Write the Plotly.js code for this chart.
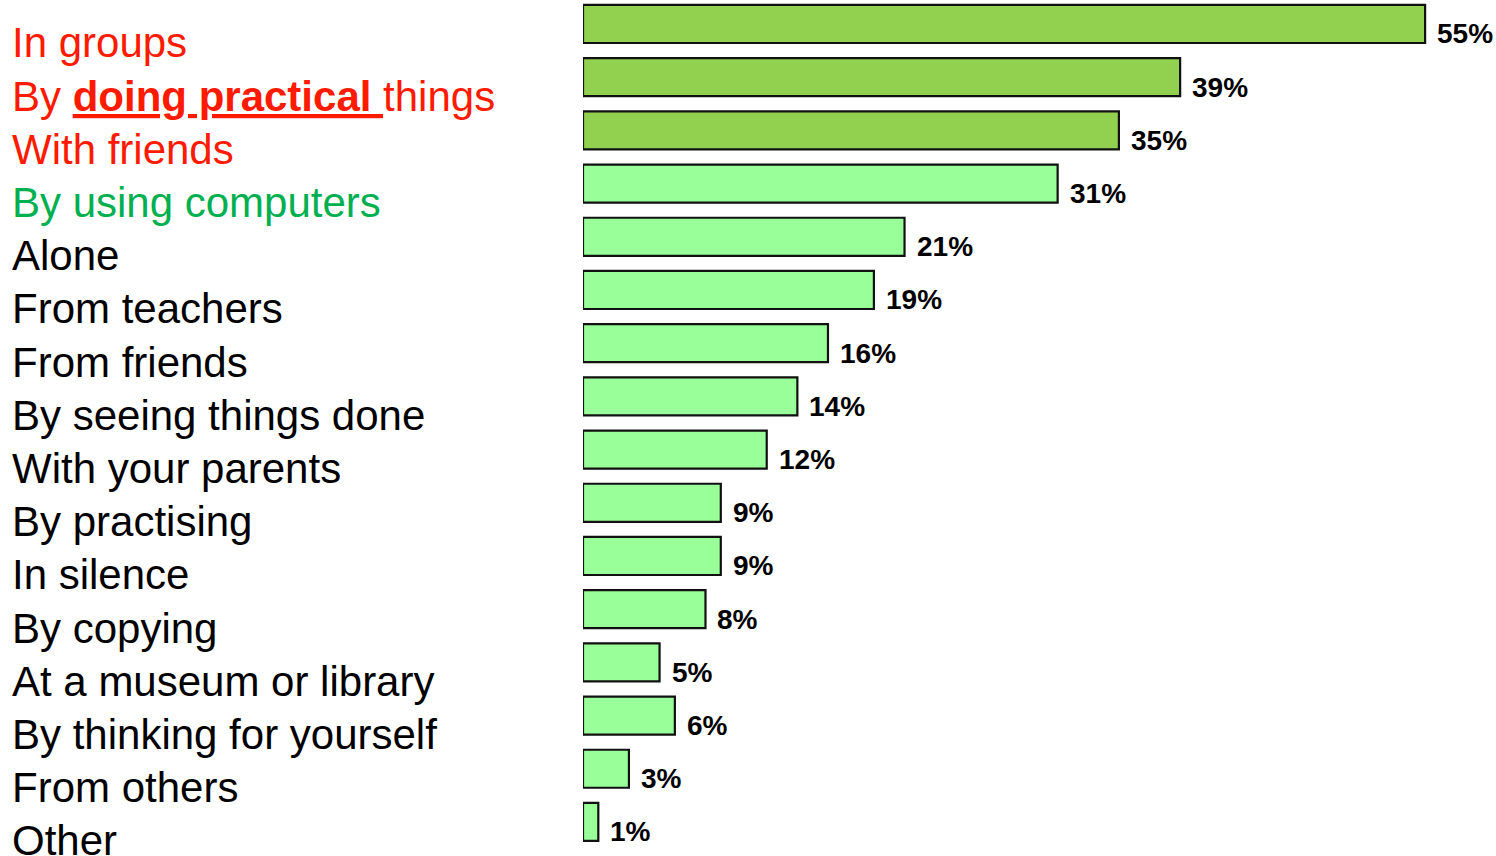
<!DOCTYPE html>
<html>
<head>
<meta charset="utf-8">
<script src="https://cdn.plot.ly/plotly-3.0.1.min.js"></script>
<style>html,body{margin:0;padding:0;background:#fff;}#chart{width:1496px;height:856px;}</style>
</head>
<body>
<div id="chart"></div>
<script>
const categories = [
  "In groups",
  "By doing practical things",
  "With friends",
  "By using computers",
  "Alone",
  "From teachers",
  "From friends",
  "By seeing things done",
  "With your parents",
  "By practising",
  "In silence",
  "By copying",
  "At a museum or library",
  "By thinking for yourself",
  "From others",
  "Other"
];
const labelTexts = [
  "In groups",
  "By <b><u>doing practical </u></b>things",
  "With friends",
  "By using computers",
  "Alone",
  "From teachers",
  "From friends",
  "By seeing things done",
  "With your parents",
  "By practising",
  "In silence",
  "By copying",
  "At a museum or library",
  "By thinking for yourself",
  "From others",
  "Other"
];
const values = [55, 39, 35, 31, 21, 19, 16, 14, 12, 9, 9, 8, 5, 6, 3, 1];
const valueLabels = ["55%","39%","35%","31%","21%","19%","16%","14%","12%","9%","9%","8%","5%","6%","3%","1%"];
const labelColors = ["#FF1A00","#FF1A00","#FF1A00","#00B050","#000","#000","#000","#000","#000","#000","#000","#000","#000","#000","#000","#000"];
const barColors = ["#92D050","#92D050","#92D050","#99FF99","#99FF99","#99FF99","#99FF99","#99FF99","#99FF99","#99FF99","#99FF99","#99FF99","#99FF99","#99FF99","#99FF99","#99FF99"];

const FONT = "Liberation Sans, Arial, Helvetica, sans-serif";

const annotations = [];
categories.forEach((c, i) => {
  annotations.push({
    xref: "paper", yref: "y", x: -0.6276, y: c,
    xanchor: "left", yanchor: "middle", yshift: -19,
    text: labelTexts[i], showarrow: false,
    font: {family: FONT, size: 42, color: labelColors[i]}
  });
  annotations.push({
    xref: "x", yref: "y", x: values[i], y: c,
    xanchor: "left", yanchor: "middle", xshift: 10, yshift: -10,
    text: "<b>" + valueLabels[i] + "</b>", showarrow: false,
    font: {family: FONT, size: 28, color: "#000"}
  });
});

const data = [{
  type: "bar", orientation: "h",
  x: values, y: categories,
  width: 0.715,
  marker: {color: barColors, line: {color: "#111", width: 2.2}},
  hoverinfo: "none"
}];

const layout = {
  width: 1496, height: 856,
  margin: {l: 583, r: 0, t: 0, b: 0, pad: 0},
  paper_bgcolor: "#fff", plot_bgcolor: "#fff",
  showlegend: false,
  xaxis: {range: [0, 59.63], visible: false, fixedrange: true},
  yaxis: {type: "category", categoryorder: "array", categoryarray: categories,
          range: [15.64, -0.451], showticklabels: false, showgrid: false,
          zeroline: false, showline: false, ticks: "", fixedrange: true},
  annotations: annotations
};

Plotly.newPlot("chart", data, layout, {displayModeBar: false, staticPlot: true});
</script>
</body>
</html>
